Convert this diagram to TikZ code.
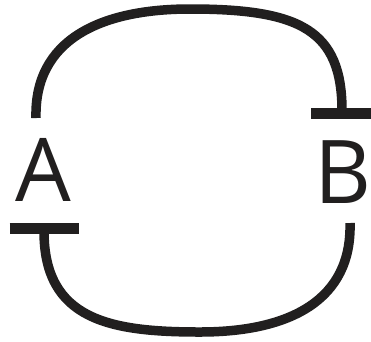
\documentclass[tikz,border=0pt]{standalone}
\usepackage{fontspec}
\setmainfont{Open Sans}
\usetikzlibrary{arrows.meta}
\definecolor{inkblack}{rgb}{.13,.12,.12}

\begin{document}
\begin{tikzpicture}[x=1pt,y=-1pt]
\useasboundingbox (0,0) rectangle (371,341);
\tikzset{loopline/.style={line width=9.5pt,color=inkblack},
  letter/.style={inner sep=0pt,color=inkblack,font=\fontsize{88}{88}\selectfont}}
\node[letter] (A) at (43,170) {A};
\node[letter] (B) at (343,172) {B};
\coordinate (Atop) at (36,118);
\coordinate (Btop) at (342,119);
\coordinate (Abot) at (44,223);
\coordinate (Bbot) at (350,223);
% upper loop, A to B, bar at B
\draw[loopline,-{Bar[width=63pt,line width=11pt]}] (Atop) .. controls (34,40) and (100,9) .. (190,9) .. controls (300,9) and (342,30) .. (Btop);
% lower loop, B to A, bar at A
\draw[loopline,-{Bar[width=69pt,line width=11pt]}] (Bbot) .. controls (352,300) and (290,332) .. (200,332) .. controls (110,332) and (44,320) .. (Abot);
\end{tikzpicture}
\end{document}
